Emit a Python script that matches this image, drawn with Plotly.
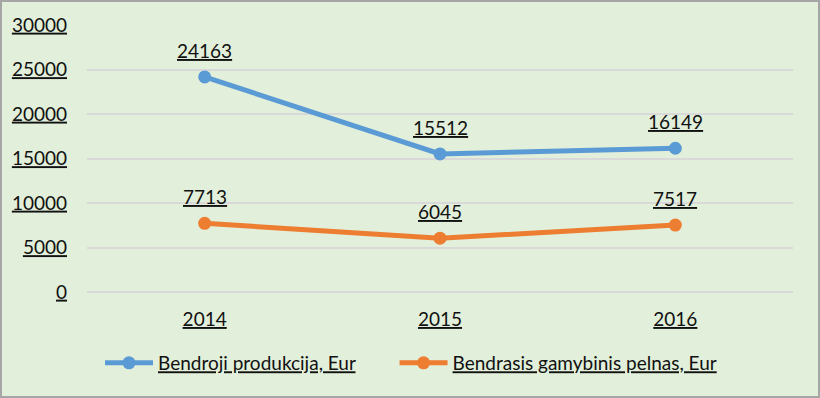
import plotly.graph_objects as go

years = ["2014", "2015", "2016"]
produkcija = [24163, 15512, 16149]
pelnas = [7713, 6045, 7517]
series_names = ["Bendroji produkcija, Eur", "Bendrasis gamybinis pelnas, Eur"]
tick_vals = [0, 5000, 10000, 15000, 20000, 25000, 30000]

FONT = "Lato"
TXT = "#111111"
BG = "#E2EFDA"
ufont = dict(family=FONT, size=19, color=TXT, lineposition="under")
lfont = dict(family=FONT, size=19, color=TXT)

fig = go.Figure()
legend_labels = ["<u>%s</u>%s" % (series_names[0], "&nbsp;" * 7), "<u>%s</u>" % series_names[1]]
for label, vals, col in [(legend_labels[0], produkcija, "#5B9BD5"), (legend_labels[1], pelnas, "#ED7D31")]:
    fig.add_trace(go.Scatter(
        x=years, y=vals, name=label, mode="lines+markers",
        line=dict(color=col, width=5),
        marker=dict(color=col, size=13),
        cliponaxis=False,
    ))
    for i, yv in enumerate(vals):
        fig.add_annotation(x=i, y=yv, xref="x", yref="y", text=str(yv), showarrow=False,
                           yanchor="bottom", yshift=13, font=ufont)

W, H = 820, 398
L, R, T, B = 87, 27, 25, 106
pw, ph = W - L - R, H - T - B

fig.update_layout(
    width=W, height=H,
    margin=dict(l=L, r=R, t=T, b=B, autoexpand=False),
    paper_bgcolor=BG, plot_bgcolor=BG,
    font=dict(family=FONT, size=19, color=TXT),
    showlegend=True,
    legend=dict(orientation="h", x=(100 - L) / pw, xanchor="left", y=-0.266, yanchor="middle",
                font=lfont, bgcolor="rgba(0,0,0,0)", itemwidth=48, tracegroupgap=0),
    xaxis=dict(type="category", range=[-0.5, 2.5], showgrid=False, showline=False,
               zeroline=False, ticks="", automargin=False,
               tickfont=ufont, ticklabelstandoff=14),
    yaxis=dict(range=[0, 30000], tickvals=tick_vals, ticktext=[str(v) for v in tick_vals],
               showgrid=True, gridcolor="#D9D9D9", gridwidth=1.5,
               zeroline=True, zerolinecolor="#D9D9D9", zerolinewidth=1.5,
               showline=False, ticks="", automargin=False,
               tickfont=ufont, ticklabelstandoff=19),
)

fig.add_shape(type="rect", xref="paper", yref="paper",
              x0=(1 - L) / pw, x1=1 + (W - 1 - (W - R)) / pw,
              y0=-(H - 1 - (H - B)) / ph, y1=1 + (T - 1) / ph,
              line=dict(color="#A6A6A6", width=2), fillcolor="rgba(0,0,0,0)", layer="below")

fig.write_html("out.html", config={"displayModeBar": False},
               post_script="document.body.style.margin='0';document.body.style.background='%s';" % BG)
